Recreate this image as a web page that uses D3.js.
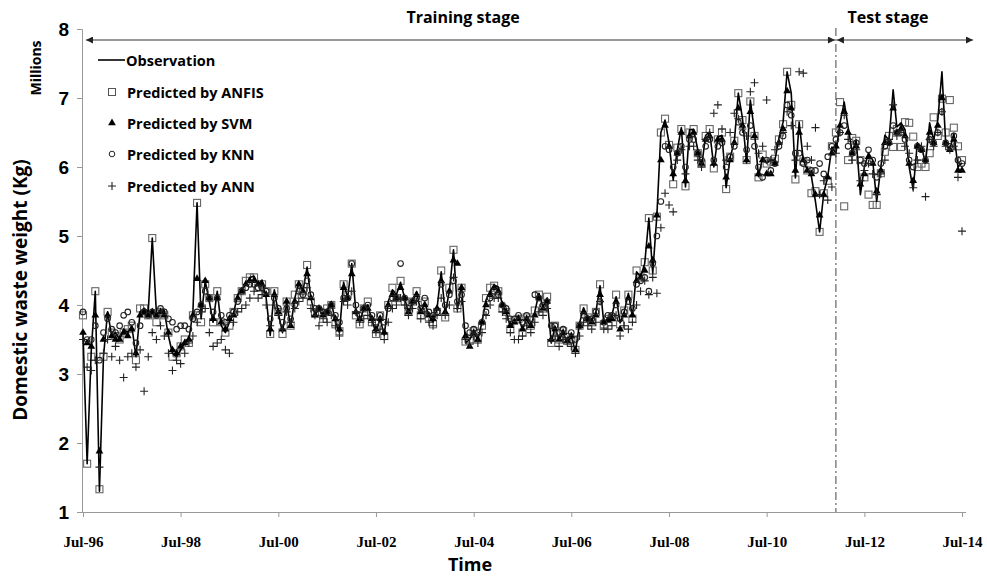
<!DOCTYPE html>
<html>
<head>
<meta charset="utf-8">
<script src="https://cdn.jsdelivr.net/npm/d3@7"></script>
<style>
  body { margin: 0; background: #fff; }
  .axis path, .axis line { stroke: #999; }
</style>
</head>
<body>
<script>
// monthly data, Jul-96 .. Jul-14 (millions of kg)
const observation = [
  3.6, 1.7, 3.35, 4.2, 1.3, 3.25, 3.9, 3.55, 3.6, 3.5,
  3.65, 3.6, 3.7, 3.25, 3.9, 3.95, 3.9, 4.97, 3.88, 3.9,
  3.92, 3.55, 3.3, 3.25, 3.35, 3.45, 3.5, 3.9, 5.48, 3.8,
  4.35, 4.05, 3.75, 4.2, 3.7, 3.6, 3.75, 3.88, 4.15, 4.22,
  4.3, 4.4, 4.42, 4.3, 4.36, 4.1, 3.56, 4.22, 3.88, 3.6,
  4.04, 3.68, 4.1, 4.32, 4.2, 4.55, 4.1, 3.85, 3.95, 3.83,
  3.9, 4.05, 3.75, 3.6, 4.33, 4.1, 4.6, 3.9, 3.75, 3.95,
  4.0, 3.78, 3.6, 3.8, 3.56, 4.05, 4.22, 4.15, 4.33, 4.1,
  3.88, 4.05, 4.19, 3.9, 4.03, 3.85, 3.75, 3.95, 4.48, 3.88,
  4.2, 4.8, 3.93, 4.29, 3.45, 3.5, 3.6, 3.5, 3.75, 4.07,
  4.2, 4.29, 4.26, 4.0, 3.9, 3.68, 3.75, 3.83, 3.64, 3.8,
  3.68, 3.9, 4.17, 3.97, 4.1, 3.45, 3.68, 3.49, 3.6, 3.45,
  3.55, 3.32, 3.74, 3.96, 3.8, 3.78, 3.9, 4.28, 3.74, 3.78,
  3.85, 4.12, 3.74, 3.9, 4.17, 3.83, 4.48, 4.41, 4.6, 5.26,
  4.46, 5.3, 6.5, 6.68, 6.35, 5.81, 6.25, 6.57, 5.71, 6.54,
  6.54, 6.25, 6.0, 6.46, 6.51, 6.0, 6.43, 6.46, 5.7, 6.14,
  6.36, 7.07, 6.71, 6.06, 6.97, 6.51, 5.86, 6.14, 6.06, 6.1,
  6.1, 6.42, 6.65, 7.38, 7.07, 5.84, 6.65, 6.1, 5.96, 5.86,
  5.5, 5.06, 5.62, 5.86, 6.29, 6.2, 6.64, 6.94, 6.58, 6.22,
  6.39, 5.6, 6.0, 6.2, 6.1, 5.5, 6.0, 6.46, 6.39, 7.12,
  6.58, 6.64, 6.54, 6.0, 5.67, 6.35, 6.29, 6.06, 6.64, 6.39,
  6.68, 7.38, 6.35, 6.25, 6.49, 6.0, 6.06
];

const anfis = [
  3.85, 1.7, 3.25, 4.2, 1.33, 3.25, 3.9, 3.6, 3.55, 3.5,
  3.6, 3.65, 3.7, 3.2, 3.95, 3.95, 3.85, 4.97, 3.75, 3.9,
  3.85, 3.6, 3.25, 3.3, 3.4, 3.5, 3.45, 3.85, 5.48, 3.75,
  4.3, 4.1, 3.75, 4.2, 3.75, 3.6, 3.7, 3.9, 4.1, 4.2,
  4.35, 4.4, 4.4, 4.25, 4.3, 4.2, 3.58, 4.2, 3.9, 3.58,
  4.05, 3.7, 4.15, 4.3, 4.2, 4.58, 4.05, 3.88, 3.9, 3.8,
  3.95, 4.0, 3.72, 3.62, 4.3, 4.15, 4.6, 3.85, 3.72, 3.95,
  4.05, 3.75, 3.58, 3.85, 3.55, 4.0, 4.25, 4.1, 4.35, 4.05,
  3.9, 4.05, 4.2, 3.85, 4.05, 3.82, 3.72, 3.9, 4.5, 3.82,
  4.25, 4.8, 3.95, 4.25, 3.47, 3.48, 3.62, 3.52, 3.7, 4.1,
  4.25, 4.28, 4.2, 3.95, 3.9, 3.65, 3.78, 3.8, 3.6, 3.82,
  3.7, 3.92, 4.15, 3.95, 4.12, 3.45, 3.7, 3.5, 3.62, 3.48,
  3.5, 3.35, 3.7, 3.95, 3.82, 3.75, 3.9, 4.3, 3.72, 3.8,
  3.82, 4.15, 3.72, 3.92, 4.15, 3.8, 4.5, 4.4, 4.62, 5.26,
  4.5, 5.28, 6.5, 6.7, 6.32, 5.75, 6.28, 6.55, 5.72, 6.5,
  6.55, 6.2, 6.05, 6.45, 6.55, 5.98, 6.4, 6.5, 5.68, 6.15,
  6.38, 7.07, 6.68, 6.1, 6.95, 6.45, 5.85, 6.18, 6.05, 6.08,
  6.12, 6.4, 6.62, 7.38, 6.9, 5.82, 6.62, 6.08, 5.95, 5.62,
  5.65, 5.06, 5.62, 5.8, 6.3, 6.5, 6.94, 5.43, 6.1, 6.42,
  6.38, 6.1, 5.85, 5.6, 5.45, 5.45, 5.91, 6.22, 6.45, 6.29,
  6.55, 6.29, 6.65, 6.64, 6.44, 6.0, 6.05, 6.0, 6.2, 6.72,
  6.45, 6.99, 6.5, 6.97, 6.57, 6.3, 6.1
];

const svm = [
  3.6, 3.45, 3.4, 3.85, 1.88, 3.5, 3.85, 3.55, 3.5, 3.5,
  3.6, 3.55, 3.65, 3.3, 3.85, 3.9, 3.85, 3.9, 3.85, 3.9,
  3.85, 3.6, 3.35, 3.3, 3.4, 3.45, 3.5, 3.85, 4.38, 4.0,
  4.35, 4.1, 3.8, 4.1, 3.75, 3.65, 3.8, 3.85, 4.1, 4.2,
  4.3, 4.35, 4.35, 4.3, 4.3, 4.15, 3.65, 4.15, 3.9, 3.65,
  4.05, 3.7, 4.05, 4.3, 4.2, 4.45, 4.1, 3.85, 3.95, 3.85,
  3.9, 4.0, 3.8, 3.65, 4.25, 4.1, 4.45, 3.9, 3.8, 3.95,
  3.95, 3.8, 3.65, 3.8, 3.6, 4.0, 4.15, 4.1, 4.25, 4.1,
  3.9, 4.05, 4.15, 3.9, 4.0, 3.85, 3.8, 3.95, 4.35, 3.9,
  4.2, 4.65, 4.6, 4.25, 3.55, 3.4, 3.6, 3.5, 3.75, 4.0,
  4.15, 4.25, 4.2, 4.0, 3.9, 3.7, 3.75, 3.8, 3.65, 3.8,
  3.7, 3.85, 4.1, 3.95, 4.05, 3.5, 3.65, 3.5, 3.6, 3.48,
  3.55, 3.35, 3.7, 3.9, 3.8, 3.75, 3.85, 4.15, 3.75, 3.78,
  3.8, 4.05, 3.65, 3.85, 4.1, 3.85, 4.35, 4.4, 4.5, 4.85,
  4.65, 5.3, 6.1, 6.6, 6.3, 5.9, 6.2, 6.5, 5.8, 6.45,
  6.5, 6.2, 6.05, 6.4, 6.45, 6.05, 6.4, 6.4, 5.85, 6.1,
  6.35, 6.85, 6.6, 6.1, 6.8, 6.45, 5.9, 6.1, 5.9, 5.9,
  6.05, 6.35, 6.55, 7.1, 6.85, 5.95, 6.5, 6.1, 5.95, 5.9,
  5.6, 5.3, 5.6, 5.85, 6.2, 6.3, 6.6, 6.8, 6.5, 6.2,
  6.3, 5.75, 5.9, 6.15, 6.05, 5.65, 5.95, 6.35, 6.35, 6.85,
  6.5, 6.55, 6.45, 6.05, 5.8, 6.3, 6.25, 6.1, 6.5, 6.35,
  6.6, 7.0, 6.35, 6.25, 6.4, 5.95, 5.95
];

const knn = [
  3.9, 3.5, 3.5, 3.7, 3.2, 3.6, 3.8, 3.65, 3.6, 3.7,
  3.85, 3.9, 3.75, 3.45, 3.7, 3.9, 3.85, 3.9, 3.85, 3.95,
  3.9, 3.8, 3.75, 3.65, 3.7, 3.7, 3.65, 3.8, 3.9, 4.0,
  4.2, 4.1, 3.9, 4.1, 3.85, 3.75, 3.85, 3.9, 4.05, 4.2,
  4.25, 4.3, 4.3, 4.25, 4.25, 4.2, 3.8, 4.1, 3.95, 3.75,
  3.95, 3.8, 4.0, 4.2, 4.15, 4.35, 4.15, 3.95, 3.95, 3.9,
  3.9, 4.0, 3.85, 3.75, 4.1, 4.1, 4.6, 4.0, 3.85, 3.95,
  4.0, 3.85, 3.75, 3.85, 3.75, 3.95, 4.1, 4.1, 4.6, 4.1,
  3.95, 4.05, 4.1, 3.95, 4.1, 3.9, 3.85, 3.9, 4.3, 4.0,
  4.15, 4.35, 4.05, 4.15, 3.7, 3.6, 3.65, 3.6, 3.75, 3.9,
  4.1, 4.2, 4.15, 4.0, 3.95, 3.8, 3.8, 3.85, 3.75, 3.85,
  3.8, 4.15, 4.1, 4.0, 4.05, 3.7, 3.7, 3.6, 3.65, 3.55,
  3.6, 3.5, 3.7, 3.85, 3.8, 3.8, 3.9, 4.05, 3.75, 3.85,
  3.85, 4.0, 3.8, 3.9, 4.05, 3.95, 4.3, 4.35, 4.4, 4.2,
  4.6, 5.0, 5.5, 6.3, 6.25, 6.0, 6.2, 6.3, 6.0, 6.4,
  6.4, 6.2, 6.1, 6.3, 6.4, 6.1, 6.3, 6.35, 6.0, 6.15,
  6.3, 6.65, 6.5, 6.25, 6.6, 6.3, 6.0, 5.85, 6.1, 5.95,
  6.05, 6.3, 6.45, 6.9, 6.75, 6.2, 6.2, 6.05, 6.1, 5.95,
  5.95, 6.05, 5.9, 6.15, 6.3, 6.4, 6.5, 6.6, 6.3, 6.2,
  6.35, 6.1, 6.05, 6.25, 6.1, 5.85, 6.05, 6.3, 6.35, 6.6,
  6.5, 6.5, 6.4, 6.1, 6.0, 6.3, 6.25, 6.1, 6.4, 6.35,
  6.5, 6.8, 6.35, 6.3, 6.45, 6.1, 6.05
];

const ann = [
  3.5, 3.1, 3.05, 3.2, 1.65, 3.3, 3.5, 3.25, 3.4, 3.2,
  2.95, 3.25, 3.3, 3.1, 3.35, 2.75, 3.25, 3.6, 3.5, 3.7,
  3.55, 3.3, 3.05, 3.2, 3.15, 3.3, 3.45, 3.55, 3.75, 3.9,
  3.95, 3.6, 3.4, 3.45, 3.5, 3.35, 3.3, 3.75, 3.9, 3.95,
  4.0, 4.1, 4.2, 4.1, 4.15, 4.0, 3.7, 4.0, 3.85, 3.65,
  3.9, 3.75, 3.95, 4.05, 4.1, 4.25, 3.95, 3.85, 3.7, 3.8,
  3.75, 3.85, 3.7, 3.55, 4.05, 4.0, 4.2, 3.9, 3.75, 3.8,
  3.85, 3.75, 3.6, 3.65, 3.5, 3.75, 3.95, 4.0, 4.1, 4.0,
  3.85, 3.95, 4.05, 3.8, 3.9, 3.75, 3.7, 3.85, 4.1, 3.85,
  4.0, 4.4, 3.95, 4.05, 3.5, 3.45, 3.55, 3.45, 3.6, 3.85,
  4.0, 4.1, 4.1, 3.9, 3.8, 3.6, 3.5, 3.5, 3.55, 3.7,
  3.6, 3.75, 3.9, 3.85, 3.95, 3.5, 3.55, 3.4, 3.5, 3.45,
  3.4, 3.3, 3.55, 3.75, 3.7, 3.65, 3.75, 4.05, 3.65, 3.65,
  3.7, 3.85, 3.55, 3.7, 3.65, 3.75, 4.0, 4.2, 4.35, 4.15,
  4.4, 4.17, 5.12, 5.62, 5.45, 5.35, 6.1, 6.25, 5.9, 6.3,
  6.3, 6.1, 6.0, 6.4, 6.5, 6.78, 6.9, 6.55, 6.1, 6.5,
  6.78, 6.7, 6.55, 6.45, 7.09, 7.22, 6.2, 6.3, 6.97, 6.1,
  6.25, 6.35, 6.5, 6.8, 6.6, 6.1, 7.38, 7.36, 6.3, 6.1,
  6.57, 5.6, 5.8, 5.52, 5.71, 6.2, 6.5, 6.75, 6.4, 6.1,
  6.25, 5.8, 5.95, 6.05, 5.9, 5.6, 5.9, 6.1, 6.4, 6.9,
  6.45, 6.5, 6.3, 6.2, 5.7, 6.1, 6.3, 5.57, 6.4, 6.3,
  6.5, 6.8, 6.3, 6.25, 6.3, 5.85, 5.07
];

const startDate = new Date(1996, 6, 1);
const endDate = new Date(2014, 6, 1);
const testStart = new Date(2011, 11, 1);
const xTickDates = d3.range(1996, 2015, 2).map(function(y) { return new Date(y, 6, 1); });
const yTicks = [1, 2, 3, 4, 5, 6, 7, 8];

const legendItems = ['Observation', 'Predicted by ANFIS', 'Predicted by SVM', 'Predicted by KNN', 'Predicted by ANN'];

const W = 987, H = 576;

const x = d3.scaleTime().domain([startDate, endDate]).range([83, 962]);
const y = d3.scaleLinear().domain([1, 8]).range([512, 29]);

const dates = observation.map(function(d, i) { return new Date(1996, 6 + i, 1); });

const svg = d3.select('body').append('svg')
  .attr('width', W)
  .attr('height', H)
  .style('font-family', '"Open Sans", "Liberation Sans", sans-serif');

svg.append('rect').attr('width', W).attr('height', H).attr('fill', '#fff');

// axes
const xAxis = d3.axisBottom(x)
  .tickValues(xTickDates)
  .tickFormat(d3.timeFormat('%b-%y'))
  .tickSizeOuter(0)
  .tickSize(5);

const gx = svg.append('g')
  .attr('class', 'axis')
  .attr('transform', 'translate(0,512)')
  .call(xAxis);
gx.select('.domain').attr('d', 'M77,0.5H966');
gx.selectAll('text')
  .attr('y', 24)
  .style('font-family', '"Liberation Serif", "Times New Roman", serif')
  .style('font-weight', 'bold')
  .style('font-size', '15px')
  .style('fill', '#000');

const yAxis = d3.axisLeft(y)
  .tickValues(yTicks)
  .tickFormat(d3.format('d'))
  .tickSizeOuter(0)
  .tickSize(5);

const gy = svg.append('g')
  .attr('class', 'axis')
  .attr('transform', 'translate(82,0)')
  .call(yAxis);
gy.selectAll('text')
  .attr('x', -13)
  .style('font-weight', 'bold')
  .style('font-size', '19px')
  .style('fill', '#000');

// axis titles
svg.append('text')
  .attr('x', 470).attr('y', 571)
  .attr('text-anchor', 'middle')
  .style('font-weight', 'bold').style('font-size', '18px')
  .text('Time');

svg.append('text')
  .attr('transform', 'translate(27,290) rotate(-90)')
  .attr('text-anchor', 'middle')
  .style('font-weight', 'bold').style('font-size', '19px')
  .text('Domestic waste weight (Kg)');

svg.append('text')
  .attr('transform', 'translate(41,68) rotate(-90)')
  .attr('text-anchor', 'middle')
  .style('font-weight', 'bold').style('font-size', '14px')
  .text('Millions');

// stage annotations
const defs = svg.append('defs');
defs.append('marker')
  .attr('id', 'arrow')
  .attr('viewBox', '0 0 10 10')
  .attr('refX', 10).attr('refY', 5)
  .attr('markerWidth', 9).attr('markerHeight', 7)
  .attr('markerUnits', 'userSpaceOnUse')
  .attr('orient', 'auto-start-reverse')
  .append('path')
  .attr('d', 'M0,0L10,5L0,10Z')
  .attr('fill', '#222');

const xTest = x(testStart);

svg.append('line')
  .attr('x1', 86).attr('x2', xTest - 1)
  .attr('y1', 40).attr('y2', 40)
  .attr('stroke', '#333').attr('stroke-width', 1.2)
  .attr('marker-start', 'url(#arrow)')
  .attr('marker-end', 'url(#arrow)');

svg.append('line')
  .attr('x1', xTest + 1).attr('x2', 973)
  .attr('y1', 40).attr('y2', 40)
  .attr('stroke', '#333').attr('stroke-width', 1.2)
  .attr('marker-start', 'url(#arrow)')
  .attr('marker-end', 'url(#arrow)');

svg.append('line')
  .attr('x1', xTest).attr('x2', xTest)
  .attr('y1', 28).attr('y2', 512)
  .attr('stroke', '#444').attr('stroke-width', 1)
  .attr('stroke-dasharray', '8,3,2,3');

svg.append('text')
  .attr('x', 463).attr('y', 23)
  .attr('text-anchor', 'middle')
  .style('font-weight', 'bold').style('font-size', '16px')
  .text('Training stage');

svg.append('text')
  .attr('x', 888).attr('y', 23)
  .attr('text-anchor', 'middle')
  .style('font-weight', 'bold').style('font-size', '16px')
  .text('Test stage');

// series
const plot = svg.append('g');

const sq = 7;
plot.selectAll('.anfis')
  .data(anfis)
  .enter().append('rect')
  .attr('class', 'anfis')
  .attr('x', function(d, i) { return x(dates[i]) - sq / 2; })
  .attr('y', function(d) { return y(d) - sq / 2; })
  .attr('width', sq).attr('height', sq)
  .attr('fill', 'none')
  .attr('stroke', '#666')
  .attr('stroke-width', 1.1);

const line = d3.line()
  .x(function(d, i) { return x(dates[i]); })
  .y(function(d) { return y(d); });

plot.append('path')
  .datum(observation)
  .attr('d', line)
  .attr('fill', 'none')
  .attr('stroke', '#000')
  .attr('stroke-width', 1.6)
  .attr('stroke-linejoin', 'round');

const tri = d3.symbol().type(d3.symbolTriangle).size(26);
plot.selectAll('.svm')
  .data(svm)
  .enter().append('path')
  .attr('class', 'svm')
  .attr('d', tri)
  .attr('transform', function(d, i) { return 'translate(' + x(dates[i]) + ',' + y(d) + ')'; })
  .attr('fill', '#000');

plot.selectAll('.knn')
  .data(knn)
  .enter().append('circle')
  .attr('class', 'knn')
  .attr('cx', function(d, i) { return x(dates[i]); })
  .attr('cy', function(d) { return y(d); })
  .attr('r', 2.8)
  .attr('fill', 'none')
  .attr('stroke', '#222')
  .attr('stroke-width', 1.1);

plot.selectAll('.ann')
  .data(ann)
  .enter().append('path')
  .attr('class', 'ann')
  .attr('d', 'M-4,0H4M0,-4V4')
  .attr('transform', function(d, i) { return 'translate(' + x(dates[i]) + ',' + y(d) + ')'; })
  .attr('stroke', '#222')
  .attr('stroke-width', 1.1);

// legend
const legend = svg.append('g');
const rowY = [60, 92, 123, 154, 186];

legendItems.forEach(function(label, i) {
  const g = legend.append('g').attr('transform', 'translate(112,' + rowY[i] + ')');
  if (i === 0) {
    g.append('line').attr('x1', -14).attr('x2', 13).attr('y1', 0).attr('y2', 0)
      .attr('stroke', '#000').attr('stroke-width', 1.6);
  } else if (i === 1) {
    g.append('rect').attr('x', -3.5).attr('y', -3.5).attr('width', 7).attr('height', 7)
      .attr('fill', 'none').attr('stroke', '#555').attr('stroke-width', 1);
  } else if (i === 2) {
    g.append('path').attr('d', tri).attr('fill', '#000');
  } else if (i === 3) {
    g.append('circle').attr('r', 2.8).attr('fill', 'none').attr('stroke', '#222');
  } else {
    g.append('path').attr('d', 'M-4,0H4M0,-4V4').attr('stroke', '#222').attr('stroke-width', 1.1);
  }
  g.append('text')
    .attr('x', i === 0 ? 14 : 15)
    .attr('y', 5.5)
    .style('font-weight', 'bold').style('font-size', '14.5px')
    .text(label);
});
</script>
</body>
</html>
